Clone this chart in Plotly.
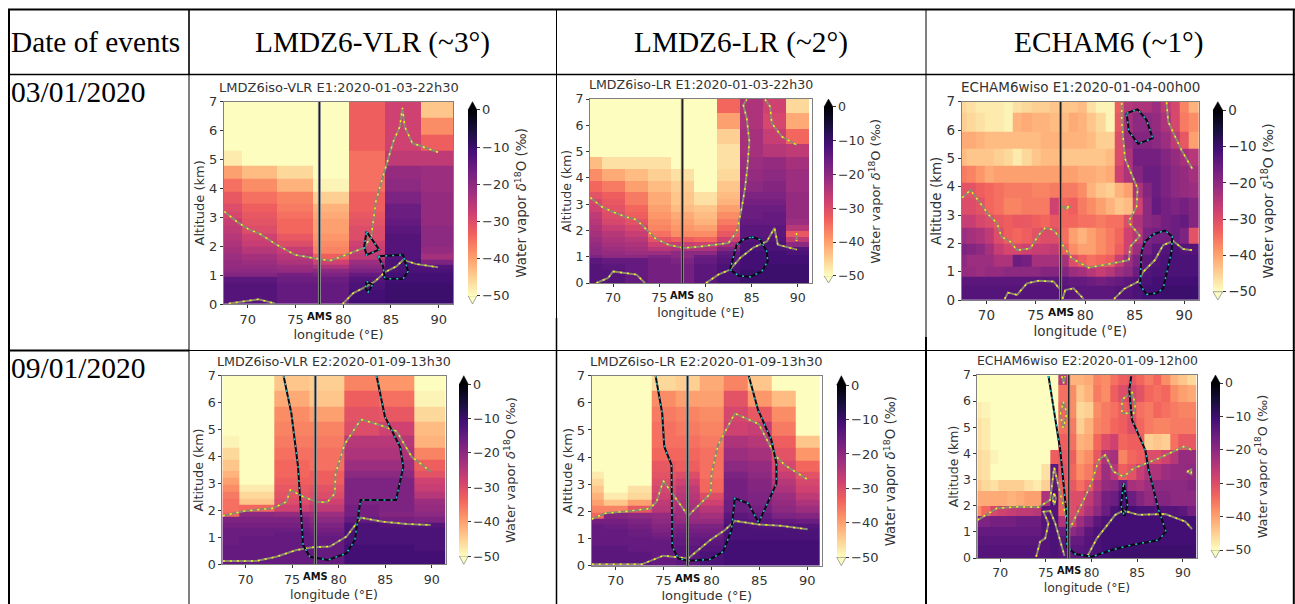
import plotly.graph_objects as go

W, H = 1295, 604

# ---------- data ----------
LON_TICKS = [70, 75, 80, 85, 90]
ALT_TICKS = [0, 1, 2, 3, 4, 5, 6, 7]
CB_TICKS = [-50, -40, -30, -20, -10, 0]
AMS_LON = 77.5

VLR_LON = [67.5, 69.35, 73.1, 76.85, 80.6, 84.35, 88.1, 91.5]
LR_LON = [67.5, 68.75, 71.25, 73.75, 76.25, 78.75, 81.25, 83.75, 86.25, 88.75, 91.25]
ECH_LON = [67.5, 67.97, 68.91, 69.84, 70.78, 71.72, 72.66, 73.59, 74.53, 75.47, 76.41, 77.34, 78.28,
           79.22, 80.16, 81.09, 82.03, 82.97, 83.91, 84.84, 85.78, 86.72, 87.66, 88.59, 89.53, 90.47, 91.45]
LMDZ_ALT = [0, .25, .5, .72, .95, 1.08, 1.22, 1.37, 1.55, 1.75, 1.97, 2.2, 2.45, 2.7, 2.95, 3.2, 3.47,
            3.87, 4.33, 4.78, 5.3, 5.85, 6.45, 7]
ECH_ALT = [0, .5, .83, 1.18, 1.6, 2.0, 2.55, 3.0, 3.6, 4.15, 4.75, 5.35, 5.95, 6.6, 7]

# rows are listed from the top of each panel downwards
E1_VLR = [
    [-52, -52, -52, -52, -33, -28, -44],
    [-52, -52, -52, -52, -33, -28, -38],
    [-52, -52, -52, -52, -33, -28, -33],
    [-48, -52, -52, -52, -35, -26, -26],
    [-40, -43, -46, -52, -35, -21, -22],
    [-35, -38, -42, -49, -35, -20, -22],
    [-32, -35, -37, -45, -33, -18, -21],
    [-30, -33, -36, -42, -33, -16, -21],
    [-29, -32, -35, -41, -32, -16, -21],
    [-27, -31, -34, -40, -31, -15, -21],
    [-26, -30, -34, -40, -30, -14, -20],
    [-25, -28, -32, -39, -30, -13, -20],
    [-24, -27, -30, -38, -28, -13, -20],
    [-23, -25, -27, -37, -27, -13, -21],
    [-22, -23, -25, -33, -26, -13, -23],
    [-21, -22, -24, -28, -22, -12, -18],
    [-21, -21, -22, -24, -20, -12, -13],
    [-20, -20, -21, -20, -18, -12, -12],
    [-19, -19, -17, -18, -15, -11, -11],
    [-14, -14, -16, -16, -13, -11, -11],
    [-13, -13, -15, -15, -12, -10, -10],
    [-13, -13, -15, -15, -11, -10, -10],
    [-13, -13, -15, -15, -11, -10, -10],
]
E1_LR = [
    [-52, -52, -52, -52, -52, -52, -34, -24, -28, -46],
    [-52, -52, -52, -52, -52, -52, -40, -24, -29, -41],
    [-52, -52, -52, -52, -52, -52, -45, -23, -27, -34],
    [-52, -52, -52, -52, -52, -52, -47, -23, -25, -26],
    [-43, -47, -47, -47, -52, -52, -47, -22, -21, -23],
    [-38, -41, -43, -45, -47, -52, -46, -21, -20, -22],
    [-34, -36, -40, -43, -45, -50, -44, -20, -19, -22],
    [-31, -33, -36, -41, -44, -47, -43, -18, -18, -21],
    [-29, -32, -36, -41, -44, -47, -42, -17, -17, -21],
    [-28, -31, -34, -40, -43, -44, -40, -16, -16, -21],
    [-26, -30, -33, -39, -41, -43, -38, -16, -15, -21],
    [-25, -29, -31, -38, -40, -42, -36, -15, -15, -22],
    [-24, -27, -29, -37, -39, -40, -34, -14, -14, -25],
    [-23, -25, -27, -35, -38, -38, -32, -14, -14, -32],
    [-22, -24, -25, -31, -33, -34, -28, -13, -13, -26],
    [-21, -23, -24, -28, -27, -28, -23, -12, -12, -20],
    [-20, -22, -23, -25, -24, -24, -19, -12, -12, -13],
    [-20, -21, -22, -22, -20, -20, -15, -11, -11, -12],
    [-18, -20, -20, -18, -20, -16, -14, -11, -11, -11],
    [-14, -15, -15, -17, -18, -15, -13, -11, -11, -11],
    [-13, -14, -15, -17, -17, -14, -12, -11, -10, -10],
    [-13, -13, -15, -17, -17, -14, -12, -10, -10, -10],
    [-13, -13, -15, -17, -17, -14, -12, -10, -10, -10],
]
E1_ECH = [
    [-46, -47, -48, -48, -48, -49, -47, -46, -45, -45, -44, -44, -44, -43, -47, -49, -49, -33, -25, -24, -24, -22, -26, -29, -37, -42],
    [-45, -46, -47, -48, -48, -49, -42, -41, -42, -42, -43, -43, -41, -42, -44, -46, -49, -32, -23, -20, -20, -21, -24, -29, -36, -38],
    [-41, -41, -42, -43, -43, -43, -43, -43, -43, -42, -42, -42, -42, -42, -43, -45, -45, -30, -22, -19, -19, -20, -22, -26, -32, -40],
    [-43, -44, -44, -44, -45, -46, -48, -46, -44, -43, -43, -44, -44, -44, -44, -44, -43, -30, -24, -17, -17, -17, -19, -21, -23, -25],
    [-36, -37, -39, -41, -40, -40, -40, -40, -40, -40, -40, -40, -40, -41, -41, -42, -41, -28, -24, -19, -16, -16, -18, -20, -21, -23],
    [-31, -31, -33, -34, -35, -36, -36, -36, -37, -37, -36, -36, -36, -38, -42, -44, -45, -42, -40, -24, -19, -16, -18, -20, -21, -22],
    [-30, -30, -31, -34, -35, -37, -37, -36, -36, -36, -28, -34, -33, -36, -38, -40, -42, -44, -43, -28, -20, -15, -17, -18, -17, -19],
    [-27, -27, -29, -30, -32, -33, -32, -32, -33, -34, -32, -34, -34, -35, -35, -36, -35, -35, -30, -24, -20, -19, -17, -16, -15, -19],
    [-22, -23, -24, -26, -30, -33, -34, -33, -31, -30, -30, -35, -40, -42, -40, -38, -36, -34, -28, -25, -18, -17, -17, -16, -18, -31],
    [-18, -19, -20, -23, -27, -29, -29, -28, -27, -27, -26, -33, -38, -40, -40, -38, -36, -33, -28, -22, -17, -14, -13, -12, -13, -13],
    [-20, -22, -22, -22, -24, -24, -16, -17, -23, -23, -23, -23, -30, -33, -35, -34, -33, -27, -22, -18, -14, -13, -12, -12, -12, -12],
    [-21, -21, -22, -21, -21, -20, -20, -20, -20, -19, -19, -19, -22, -23, -25, -27, -25, -22, -20, -16, -13, -12, -12, -12, -12, -12],
    [-14, -14, -14, -14, -14, -14, -14, -14, -14, -14, -14, -14, -15, -15, -16, -17, -16, -15, -14, -13, -12, -11, -11, -11, -11, -11],
    [-13, -13, -13, -13, -13, -13, -13, -13, -13, -13, -13, -13, -14, -14, -14, -14, -14, -13, -13, -12, -11, -11, -10, -10, -10, -10],
]
E2_VLR = [
    [-52, -52, -44, -45, -37, -39, -52],
    [-52, -52, -41, -44, -33, -35, -49],
    [-52, -52, -38, -40, -31, -32, -46],
    [-52, -52, -37, -37, -30, -28, -43],
    [-49, -52, -36, -36, -25, -25, -42],
    [-46, -52, -35, -35, -24, -24, -37],
    [-44, -52, -34, -35, -22, -22, -33],
    [-42, -52, -34, -33, -20, -20, -31],
    [-40, -51, -33, -33, -18, -18, -28],
    [-38, -48, -32, -31, -18, -18, -27],
    [-36, -46, -31, -30, -18, -18, -25],
    [-35, -44, -30, -28, -18, -18, -22],
    [-35, -34, -28, -26, -17, -18, -21],
    [-34, -20, -21, -22, -17, -19, -20],
    [-18, -18, -18, -20, -15, -17, -18],
    [-17, -17, -17, -18, -12, -13, -13],
    [-16, -16, -16, -17, -12, -12, -12],
    [-16, -16, -15, -16, -12, -12, -12],
    [-16, -15, -15, -15, -12, -12, -12],
    [-16, -15, -15, -15, -12, -12, -12],
    [-15, -15, -15, -15, -11, -11, -12],
    [-15, -15, -15, -15, -11, -11, -11],
    [-15, -15, -15, -15, -11, -11, -11],
]
E2_LR = [
    [-52, -52, -52, -46, -45, -41, -37, -44, -52, -52],
    [-52, -52, -52, -38, -40, -40, -31, -39, -43, -52],
    [-52, -52, -52, -36, -37, -38, -29, -32, -38, -52],
    [-52, -52, -52, -35, -36, -37, -28, -27, -36, -52],
    [-52, -52, -52, -35, -35, -36, -24, -25, -33, -44],
    [-52, -52, -52, -34, -34, -35, -22, -23, -31, -39],
    [-52, -52, -52, -32, -33, -35, -20, -21, -29, -34],
    [-48, -52, -52, -31, -30, -35, -18, -20, -27, -31],
    [-46, -52, -52, -30, -28, -34, -17, -19, -25, -29],
    [-44, -50, -47, -29, -26, -34, -17, -19, -24, -28],
    [-42, -48, -46, -28, -25, -30, -17, -18, -22, -26],
    [-40, -44, -40, -26, -24, -28, -16, -18, -21, -24],
    [-37, -37, -32, -25, -23, -25, -16, -17, -20, -22],
    [-34, -19, -20, -21, -22, -23, -14, -15, -18, -19],
    [-17, -17, -18, -20, -21, -21, -13, -14, -15, -16],
    [-15, -16, -17, -19, -18, -18, -12, -13, -13, -13],
    [-15, -15, -16, -18, -17, -17, -12, -12, -12, -12],
    [-15, -15, -16, -17, -16, -16, -12, -12, -12, -12],
    [-15, -15, -15, -16, -15, -15, -12, -12, -12, -12],
    [-15, -15, -15, -15, -15, -14, -11, -11, -11, -11],
    [-14, -14, -15, -15, -14, -13, -11, -11, -11, -11],
    [-14, -14, -14, -15, -14, -12, -11, -11, -11, -11],
    [-14, -14, -14, -15, -14, -12, -11, -11, -11, -11],
]
E2_ECH = [
    [-52, -52, -52, -52, -52, -52, -52, -52, -52, -52, -26, -42, -42, -41, -37, -38, -35, -33, -32, -34, -36, -34, -38, -42, -44, -46],
    [-52, -52, -52, -52, -52, -52, -52, -52, -52, -52, -35, -38, -44, -42, -36, -38, -33, -30, -29, -31, -34, -35, -34, -38, -40, -41],
    [-48, -49, -52, -52, -52, -52, -52, -52, -52, -52, -34, -38, -46, -45, -38, -36, -35, -33, -31, -35, -36, -34, -35, -36, -37, -37],
    [-47, -48, -50, -52, -52, -52, -52, -52, -52, -52, -35, -36, -45, -42, -37, -36, -34, -33, -30, -34, -36, -37, -37, -36, -36, -36],
    [-47, -48, -50, -50, -52, -52, -52, -52, -52, -52, -33, -35, -42, -41, -34, -30, -28, -34, -33, -33, -45, -44, -45, -35, -32, -32],
    [-46, -47, -49, -50, -52, -52, -52, -52, -52, -33, -32, -33, -40, -38, -32, -24, -23, -37, -34, -33, -30, -30, -28, -25, -21, -21],
    [-46, -47, -52, -52, -52, -52, -52, -52, -47, -14, -31, -34, -38, -36, -29, -22, -25, -33, -31, -27, -24, -24, -22, -21, -21, -20],
    [-44, -46, -47, -45, -45, -45, -47, -48, -45, -14, -33, -32, -35, -32, -25, -21, -20, -16, -23, -24, -22, -20, -20, -20, -20, -19],
    [-41, -41, -41, -41, -42, -41, -40, -40, -24, -12, -33, -30, -30, -26, -22, -17, -16, -12, -16, -19, -21, -19, -19, -20, -20, -20],
    [-38, -34, -29, -28, -27, -26, -26, -25, -14, -13, -33, -30, -28, -24, -20, -16, -12, -10, -11, -12, -12, -13, -13, -13, -14, -17],
    [-18, -18, -17, -17, -17, -16, -16, -16, -13, -12, -24, -28, -22, -18, -14, -12, -11, -11, -11, -11, -11, -11, -11, -11, -11, -11],
    [-15, -15, -15, -15, -15, -15, -15, -15, -13, -12, -16, -20, -18, -14, -12, -11, -11, -11, -11, -11, -11, -11, -11, -11, -11, -11],
    [-14, -14, -14, -14, -14, -14, -14, -14, -13, -12, -14, -15, -15, -13, -12, -11, -11, -11, -11, -11, -11, -11, -11, -11, -11, -11],
    [-13, -13, -13, -13, -13, -13, -13, -13, -13, -12, -13, -14, -14, -13, -12, -11, -10, -10, -10, -10, -10, -10, -10, -10, -10, -10],
]

# contours: (lon, altitude)
E1_VLR_Y1 = [(67.53,3.2),(68.85,2.85),(70,2.6),(71.3,2.42),(73.03,2.05),(74.95,1.7),(76.86,1.59),(77.5,1.55),(78.6,1.5),(80.35,1.71),(82.26,1.96),(82.96,2.39),(83.41,3.54),(84,4.23),(84.53,4.81),(85.23,5.61),(85.92,6.13),(86.2,6.79),(86.45,6.13),(87.25,5.56),(88.36,5.44),(89.93,5.25)]
E1_VLR_Y2 = [(68,.02),(70,.12),(71.1,.16),(72.86,.02)]
E1_VLR_Y3 = [(79.93,0),(81.05,.38),(82.44,.61),(83.31,.78),(84.36,1.1),(85.57,1.3),(86.27,1.53),(87.67,1.38),(89.93,1.27)]
E1_VLR_T1 = [(82.44,2.51),(83.76,1.88),(82.44,1.7),(82.2,1.99),(82.44,2.51)]
E1_VLR_T2 = [(83.66,1.65),(86.27,1.7),(86.79,1.13),(86.27,.87),(84.36,.87),(84.18,1.3),(83.66,1.65)]
E1_VLR_T3 = [(82.44,.78),(83.07,.67),(82.6,.41),(82.33,.55),(82.44,.78)]

E1_LR_Y1 = [(67.54,3.25),(68.73,2.91),(70,2.7),(71.27,2.53),(72.53,2.41),(73.62,2.03),(74.52,1.71),(75.97,1.46),(77.6,1.33),(79.22,1.38),(81.03,1.46),(82.48,1.52),(83.38,1.96),(83.92,2.85),(84.28,3.61),(84.53,4.37),(84.75,5.38),(84.47,6.27),(84.1,6.77),(84.47,6.98)]
E1_LR_Y2 = [(68.19,0),(69.46,.19),(70,.44),(71.27,.38),(72.53,.32),(73.44,0)]
E1_LR_Y3 = [(80.05,0),(81.39,.32),(82.66,.51),(83.74,.95),(85.19,1.35),(86.64,1.58),(87.47,2.09),(87.83,1.46),(89.89,1.27)]
E1_LR_Y4 = [(86.45,6.98),(87,6.71),(87.18,6.08),(88.26,5.57),(89.89,5.25)]
E1_LR_Y5 = [(89.86,1.9),(89.86,1.6)]
E1_LR_T1 = [(85.01,1.75),(85.91,1.65),(86.64,1.2),(86.74,.82),(86.09,.44),(84.83,.23),(83.56,.28),(82.66,.51),(83.38,1.46),(84.1,1.65),(85.01,1.75)]

E1_ECH_Y1 = [(67.55,3.61),(68.39,3.88),(69.39,3.41),(70.24,3),(71.08,2.71),(71.51,2.24),(72.42,2.06),(73.09,1.76),(74.44,1.82),(75.28,2.29),(75.95,2.55),(76.79,2.47),(77.46,2.18),(77.7,1.94),(78.64,1.47),(80.32,1.14),(82.67,1.29),(84.42,1.41),(84.52,1.88),(85.53,2.26),(84.35,2.76),(85.19,3.29),(85.29,3.94),(84.02,4.99),(83.68,6.29),(83.68,6.98)]
E1_ECH_Y2 = [(71.85,.04),(72.18,.26),(73.09,.18),(74.1,.59),(75.28,.68),(76.79,.65),(77.36,.41)]
E1_ECH_Y3 = [(77.7,.04),(77.97,.35),(78.81,.41),(79.82,.04)]
E1_ECH_Y4 = [(82.91,.04),(83.92,.39),(85.36,.65),(85.87,1),(87.04,1.41),(87.88,1.94),(88.89,2.08),(89.9,1.8),(90.81,1.76)]
E1_ECH_Y5 = [(88.22,6.98),(88.39,6.29),(89.73,5.29),(90.84,4.62)]
E1_ECH_Y6 = [(77.46,3.29),(78.57,3.29),(77.8,3.2)]
E1_ECH_T1 = [(84.18,6.59),(85.29,6.73),(86.2,6.35),(86.81,5.71),(85.36,5.51),(84.42,5.94),(84.18,6.59)]
E1_ECH_T2 = [(86.87,2.32),(88.05,2.45),(88.79,2.24),(88.72,1.71),(87.88,.41),(87.21,.24),(86.2,.2),(85.53,.53),(85.7,1.71),(86.03,2.06),(86.87,2.32)]

E2_VLR_Y1 = [(67.56,1.8),(69.89,1.98),(72.94,2.08),(74.38,2.32),(74.81,2.76),(76.18,2.51),(77.61,2.32),(78.76,2.3),(79.59,2.63),(79.66,3.37),(80.66,4.47),(82.39,5.38),(84.43,5.17),(86.23,4.94),(87.85,3.99),(89.89,3.44)]
E2_VLR_Y2 = [(67.56,.12),(71.15,.12),(73.3,.28),(75.46,.53),(77.25,.63),(79.05,.66),(80.84,1.03),(82.39,1.73),(84.79,1.58),(87.31,1.5),(89.89,1.46)]
E2_VLR_T1 = [(74.09,6.98),(74.92,5.6),(75.64,3.62),(76.18,.72),(76.89,.28),(78.87,.16),(80.84,.41),(81.74,.9),(82.35,2.39),(86.16,2.39),(86.95,3.62),(86.59,4.36),(84.97,5.48),(84.08,6.98)]

E2_LR_Y1 = [(67.5,1.72),(68.89,1.93),(71.32,2.01),(73.58,2.11),(74.27,2.36),(74.97,3.13),(77.57,1.84),(79.93,2.67),(80,3.4),(80.69,4.45),(82.43,5.61),(84.93,5.22),(86.6,4.08),(87.64,3.71),(90,3.18)]
E2_LR_Y2 = [(67.5,.05),(72.71,.05),(74.97,.37),(77.57,.27),(80,.98),(81.39,1.31),(82.43,1.65),(84.93,1.52),(87.29,1.47),(90,1.34)]
E2_LR_T1 = [(74.17,6.99),(74.86,5.61),(75.07,4.39),(75.83,3.71),(75.9,.7),(76.53,.27),(77.57,.18),(79.83,.23),(81.22,.52),(82.08,1.31),(82.43,2.48),(83.82,2.3),(84.93,1.59),(86.77,3.03),(86.77,3.77),(86.25,4.63),(84.86,5.74),(83.99,6.84),(83.89,6.99)]

E2_ECH_Y1 = [(67.52,1.45),(69.64,1.9),(72,1.96),(74.2,1.94),(75.47,2.22),(75.91,3.47),(76.57,2.47),(77.3,1.45),(77.48,1.33),(77.74,1.2),(79.31,2.35),(80.04,2.92),(80.77,3.75),(81.5,3.94),(82.41,3.3),(83.5,3.11),(84.6,3.43),(87.34,3.81),(90.07,4.26),(90.99,4.13)]
E2_ECH_Y2 = [(73.94,.05),(74.38,.63),(74.93,.75),(75.29,1.33),(74.74,1.77),(75.47,1.8),(76.02,1.33),(77.04,.08)]
E2_ECH_Y3 = [(79.56,.08),(80.58,.75),(82.59,1.65),(83.5,1.81),(85.15,1.65),(88.07,1.68),(90.26,1.39),(90.99,1.11)]
E2_ECH_Y4 = [(75.91,2.47),(75.73,2.28),(75.91,2.03),(76.09,2.28),(75.91,2.47)]
E2_ECH_Y5 = [(76.9,5.98),(77.3,5.54),(76.9,4.96),(76.57,5.47),(76.9,5.98)]
E2_ECH_Y6 = [(76.75,6.96),(76.93,6.68),(77.12,6.96)]
E2_ECH_Y7 = [(84.42,6.36),(84.78,5.85),(84.6,5.54),(83.32,5.54),(83.32,6.05),(84.42,6.36)]
E2_ECH_Y8 = [(90.44,3.3),(90.91,3.39),(90.91,3.21),(90.44,3.3)]
E2_ECH_T1 = [(75.29,6.96),(76.57,4.13),(77.3,1.58),(77.3,.43),(78.21,.15),(80.04,.05),(82.23,.31),(84.42,.5),(87.34,.69),(88.14,1.01),(87.34,1.84),(86.24,3.37),(85.88,4.13),(84.42,5.28),(84.12,6.43),(84.34,6.96)]
E2_ECH_T2 = [(83.5,2.86),(83.94,2.03),(83.58,1.61),(83.21,2.03),(83.5,2.86)]

TITLES = ["LMDZ6iso-VLR E1:2020-01-03-22h30", "LMDZ6iso-LR E1:2020-01-03-22h30", "ECHAM6wiso E1:2020-01-04-00h00",
          "LMDZ6iso-VLR E2:2020-01-09-13h30", "LMDZ6iso-LR E2:2020-01-09-13h30", "ECHAM6wiso E2:2020-01-09-12h00"]
HEADERS = ["Date of events", "LMDZ6-VLR (~3°)", "LMDZ6-LR (~2°)", "ECHAM6 (~1°)"]
DATES = ["03/01/2020", "09/01/2020"]

MAGMA_R = ["#fcfdbf", "#feca8d", "#fd9668", "#f1605d", "#cd4071", "#9e2f7f", "#721f81", "#440f76", "#180f3d", "#000004"]

# ---------- layout in pixels ----------
def px(x): return x / W
def py(y): return 1 - y / H

PANELS = [
    dict(rect=(224, 453, 101.7, 304), cb=(468, 477, 110, 295.7), z=E1_VLR, lon=VLR_LON, alt=LMDZ_ALT,
         iso=[E1_VLR_Y1, E1_VLR_Y2, E1_VLR_Y3], teal=[E1_VLR_T1, E1_VLR_T2, E1_VLR_T3]),
    dict(rect=(590, 811.7, 99, 283), cb=(824, 833, 107, 275.7), z=E1_LR, lon=LR_LON, alt=LMDZ_ALT,
         iso=[E1_LR_Y1, E1_LR_Y2, E1_LR_Y3, E1_LR_Y4, E1_LR_Y5], teal=[E1_LR_T1]),
    dict(rect=(961.7, 1199, 101.7, 300), cb=(1213, 1222.7, 110.3, 291.7), z=E1_ECH, lon=ECH_LON, alt=ECH_ALT,
         iso=[E1_ECH_Y1, E1_ECH_Y2, E1_ECH_Y3, E1_ECH_Y4, E1_ECH_Y5, E1_ECH_Y6], teal=[E1_ECH_T1, E1_ECH_T2]),
    dict(rect=(222.3, 445.7, 375.7, 564.3), cb=(459.3, 468.3, 384.3, 556), z=E2_VLR, lon=VLR_LON, alt=LMDZ_ALT,
         iso=[E2_VLR_Y1, E2_VLR_Y2], teal=[E2_VLR_T1]),
    dict(rect=(591.7, 821.7, 375.7, 565.7), cb=(836.7, 846, 385, 557.3), z=E2_LR, lon=LR_LON, alt=LMDZ_ALT,
         iso=[E2_LR_Y1, E2_LR_Y2], teal=[E2_LR_T1]),
    dict(rect=(977.3, 1196.7, 375, 558), cb=(1211, 1220, 383, 550), z=E2_ECH, lon=ECH_LON, alt=ECH_ALT,
         iso=[E2_ECH_Y1, E2_ECH_Y2, E2_ECH_Y3, E2_ECH_Y4, E2_ECH_Y5, E2_ECH_Y6, E2_ECH_Y7, E2_ECH_Y8], teal=[E2_ECH_T1, E2_ECH_T2]),
]

SANS = "DejaVu Sans"
SERIF = "Liberation Serif"
INK = "#333333"
SPINE = "#808080"

fig = go.Figure()
shapes, annots = [], []

def contour(pts, base, dots, xa, ya):
    lons = [p[0] for p in pts]
    alts = [p[1] for p in pts]
    fig.add_trace(go.Scatter(x=lons, y=alts, mode="lines", xaxis=xa, yaxis=ya, showlegend=False, hoverinfo="skip",
                             line=dict(color=base, width=2)))
    fig.add_trace(go.Scatter(x=lons, y=alts, mode="lines", xaxis=xa, yaxis=ya, showlegend=False, hoverinfo="skip",
                             line=dict(color=dots, width=1.5, dash="2px,5px")))

axes = {}
for i, p in enumerate(PANELS):
    n = "" if i == 0 else str(i + 1)
    xa, ya = "x" + n, "y" + n
    l, r, t, b = p["rect"]
    scale = (r - l) / 229
    fs = 13 * scale
    cl, cr, ct, cb_b = p["cb"]
    fig.add_trace(go.Heatmap(
        x=p["lon"], y=p["alt"], z=p["z"][::-1], xaxis=xa, yaxis=ya, zmin=-50, zmax=0,
        colorscale=[[k / (len(MAGMA_R) - 1), c] for k, c in enumerate(MAGMA_R)], hoverinfo="skip",
        colorbar=dict(
            x=px(cl), xanchor="left", xpad=0, ypad=0, y=py((ct + cb_b) / 2), yanchor="middle",
            lenmode="pixels", len=cb_b - ct, thicknessmode="pixels", thickness=cr - cl,
            outlinewidth=0, tickvals=CB_TICKS, ticks="outside", ticklen=3, tickcolor=INK, tickwidth=1,
            tickfont=dict(family=SANS, size=fs, color=INK),
            title=dict(text="Water vapor <i>δ</i><sup>18</sup>O (‰)", side="right",
                       font=dict(family=SANS, size=fs * 1.03, color=INK)))))
    for c in p["iso"]:
        contour(c, "#8a8a70", "#ffee22", xa, ya)
    for c in p["teal"]:
        contour(c, "#0a0a14", "#25c4d0", xa, ya)
    fig.add_trace(go.Scatter(x=[AMS_LON, AMS_LON], y=[0, 7], mode="lines", xaxis=xa, yaxis=ya, showlegend=False,
                             hoverinfo="skip", line=dict(color="#8c8c8c", width=3)))
    fig.add_trace(go.Scatter(x=[AMS_LON, AMS_LON], y=[0, 7], mode="lines", xaxis=xa, yaxis=ya, showlegend=False,
                             hoverinfo="skip", line=dict(color="#1c1c1c", width=1.2)))
    axes["xaxis" + n] = dict(domain=[px(l), px(r)], anchor=ya, range=[67.5, 91.5], tickvals=LON_TICKS, ticks="outside",
                             ticklen=3, tickcolor=INK, showgrid=False, zeroline=False, mirror=True, showline=True,
                             linecolor=SPINE, linewidth=1, tickfont=dict(family=SANS, size=fs, color=INK),
                             title=dict(text="longitude (°E)", standoff=1, font=dict(family=SANS, size=fs, color=INK)))
    axes["yaxis" + n] = dict(domain=[py(b), py(t)], anchor=xa, range=[0, 7], tickvals=ALT_TICKS, ticks="outside",
                             ticklen=3, tickcolor=INK, showgrid=False, zeroline=False, mirror=True, showline=True,
                             linecolor=SPINE, linewidth=1, tickfont=dict(family=SANS, size=fs, color=INK),
                             title=dict(text="Altitude (km)", standoff=1, font=dict(family=SANS, size=fs, color=INK)))
    annots.append(dict(x=px((l + r) / 2), y=py(t - 14.7), xref="paper", yref="paper", text=TITLES[i], showarrow=False,
                       xanchor="center", yanchor="middle", font=dict(family=SANS, size=fs, color=INK)))
    ams_x = l + (AMS_LON - 67.5) / 24 * (r - l)
    annots.append(dict(x=px(ams_x), y=py(b + 12.5), xref="paper", yref="paper", text="<b>AMS</b>", showarrow=False,
                       xanchor="center", yanchor="middle", font=dict(family=SANS, size=fs * 0.78, color="#111111")))
    mid = (cl + cr) / 2
    shapes.append(dict(type="path", xref="paper", yref="paper", layer="above", fillcolor="#000004",
                       line=dict(color="#000004", width=.5),
                       path=f"M {px(cl)},{py(ct)} L {px(cr)},{py(ct)} L {px(mid)},{py(t)} Z"))
    shapes.append(dict(type="path", xref="paper", yref="paper", layer="above", fillcolor="#fcfdbf",
                       line=dict(color=SPINE, width=.7),
                       path=f"M {px(cl)},{py(cb_b)} L {px(cr)},{py(cb_b)} L {px(mid)},{py(b)} Z"))

# table rules: (x0, y0, x1, y1, width)
RULES = [
    (8, 9.5, 1295, 9.5, 2), (9, 9, 9, 604, 2), (189, 9, 189, 74, 1.6), (189, 74, 189, 604, 1),
    (8, 74.5, 1295, 74.5, 1.6), (556.5, 9, 556.5, 318, 1), (556.5, 318, 556.5, 604, 1.5),
    (926, 9, 926, 337, 1), (926, 337, 926, 604, 2), (1293.8, 9, 1293.8, 604, 2),
    (8, 350.5, 189, 350.5, 2), (189, 350.5, 1295, 350.5, 1),
]
for x0, y0, x1, y1, w in RULES:
    shapes.append(dict(type="line", xref="paper", yref="paper", layer="above", x0=px(x0), x1=px(x1), y0=py(y0), y1=py(y1),
                       line=dict(color="#000000", width=w)))

HEADER_X = [(8.5, "left"), (372, "center"), (741, "center"), (1109, "center")]
for (hx, anchor), text in zip(HEADER_X, HEADERS):
    annots.append(dict(x=px(hx), y=py(42), xref="paper", yref="paper", text=text, showarrow=False, xanchor=anchor,
                       yanchor="middle", font=dict(family=SERIF, size=29.3, color="#000000")))
for dy, text in zip((92, 368), DATES):
    annots.append(dict(x=px(8.5), y=py(dy), xref="paper", yref="paper", text=text, showarrow=False, xanchor="left",
                       yanchor="middle", font=dict(family=SERIF, size=29.5, color="#000000")))

fig.update_layout(width=W, height=H, margin=dict(l=0, r=0, t=0, b=0, autoexpand=False), paper_bgcolor="white",
                  plot_bgcolor="white", showlegend=False, shapes=shapes, annotations=annots, **axes)
fig.write_html("out.html", config=dict(displayModeBar=False),
               post_script="document.body.style.margin='0';document.body.style.overflow='hidden';")
